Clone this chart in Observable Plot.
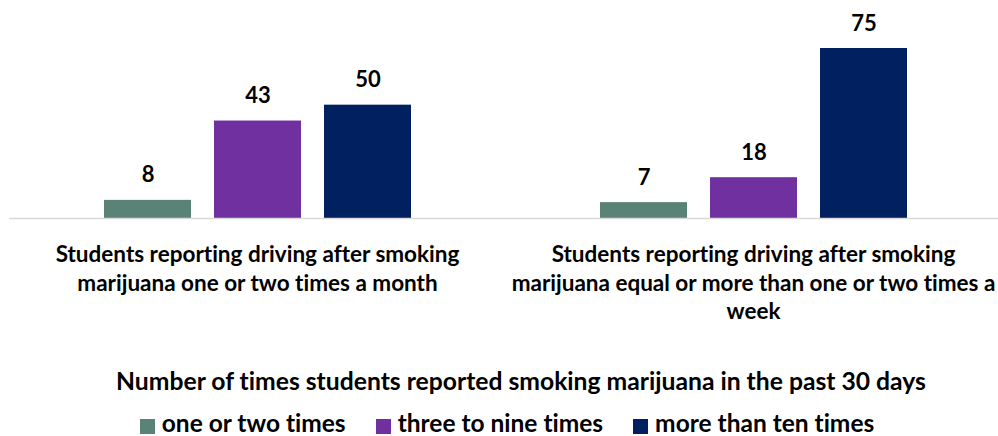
<!DOCTYPE html>
<html>
<head>
<meta charset="utf-8">
<script src="https://cdn.jsdelivr.net/npm/d3@7"></script>
<script src="https://cdn.jsdelivr.net/npm/@observablehq/plot@0.6"></script>
<style>
  html, body { margin: 0; padding: 0; background: #fff; }
  #wrap { position: relative; width: 998px; height: 436px; font-family: Lato, sans-serif; color: #000; overflow: hidden; font-variant-ligatures: none; }
  #chart { position: absolute; left: 0; top: 0; }
  #chart svg text { font-variant-ligatures: none; }
  #ltitle { position: absolute; left: 0; top: 366px; width: 1042px; text-align: center; font-size: 24.7px; font-weight: bold; line-height: 30px; white-space: nowrap; }
  #legend { position: absolute; left: 0; top: 411px; width: 1014px; display: flex; justify-content: center; }
  .lg-swatches, .lg { font-family: Lato, sans-serif !important; font-size: 24.5px !important; line-height: 24px !important; font-weight: bold !important; color: #000 !important; margin: 0 !important; min-height: 0 !important; font-variant-ligatures: none; }
  .lg-swatch { margin-right: 30px !important; line-height: 24px !important; }
  .lg-swatch:last-child { margin-right: 0 !important; }
  .lg-swatch svg { margin-right: 7px !important; position: relative; top: 3px; }
</style>
</head>
<body>
<div id="wrap">
  <div id="chart"></div>
  <div id="ltitle"></div>
  <div id="legend"></div>
</div>
<script>
// ---- data ----
const groups = [
  "Students reporting driving after smoking\nmarijuana one or two times a month",
  "Students reporting driving after smoking\nmarijuana equal or more than one or two times a\nweek"
];
const series = ["one or two times", "three to nine times", "more than ten times"];
const oneOrTwoTimes = [8, 7];
const threeToNineTimes = [43, 18];
const moreThanTenTimes = [50, 75];
const seriesColors = ["#5B8276", "#7030A0", "#002060"];
const legendTitle = "Number of times students reported smoking marijuana in the past 30 days";

const seriesValues = [oneOrTwoTimes, threeToNineTimes, moreThanTenTimes];
const data = [];
groups.forEach((g, gi) => {
  series.forEach((s, si) => {
    data.push({group: g, series: s, value: seriesValues[si][gi]});
  });
});

const plot = Plot.plot({
  width: 998,
  height: 330,
  marginTop: 48,
  marginBottom: 112,
  marginLeft: 9,
  marginRight: 0,
  style: {fontFamily: "Lato, sans-serif", background: "#fff", overflow: "visible"},
  fx: {domain: groups, padding: 0, axis: null, range: [9, 1001]},
  x: {domain: series, paddingInner: 0.2136, paddingOuter: 0.861, axis: null},
  y: {domain: [0, 75], axis: null},
  color: {domain: series, range: seriesColors},
  marks: [
    Plot.barY(data, {fx: "group", x: "series", y: "value", fill: "series"}),
    Plot.ruleY([0], {stroke: "#d9d9d9", strokeWidth: 1.5}),
    Plot.text(data, {fx: "group", x: "series", y: "value", text: d => String(d.value),
      dy: -25, fontSize: 22, fontWeight: "bold", fill: "#000"}),
    Plot.text(groups, {fx: d => d, text: d => d, frameAnchor: "bottom", dy: 24,
      lineAnchor: "top", lineHeight: 1.25, fontSize: 22.5, fontWeight: "bold", fill: "#000"})
  ]
});
document.getElementById("chart").appendChild(plot);
document.getElementById("ltitle").textContent = legendTitle;

const leg = Plot.legend({
  color: {domain: series, range: seriesColors},
  legend: "swatches",
  swatchSize: 15,
  className: "lg"
});
document.getElementById("legend").appendChild(leg);
</script>
</body>
</html>
